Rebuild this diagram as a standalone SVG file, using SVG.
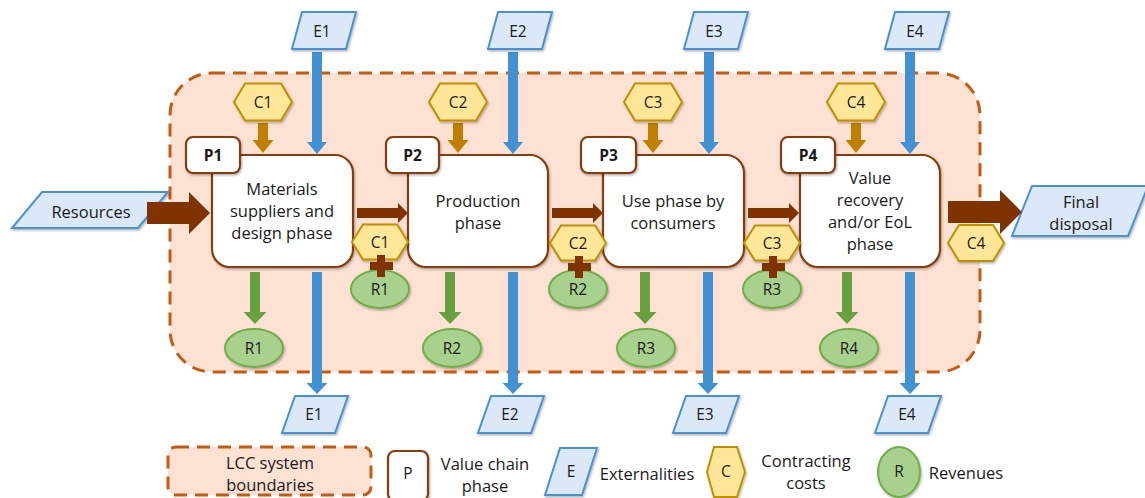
<svg xmlns="http://www.w3.org/2000/svg" width="1145" height="498" viewBox="0 0 1145 498">
<defs>
<filter id="sh" x="-20%" y="-20%" width="150%" height="150%">
<feDropShadow dx="1" dy="1.5" stdDeviation="1" flood-color="#000" flood-opacity="0.3"/>
</filter>
</defs>
<style>
text{font-family:"Open Sans","Liberation Sans",sans-serif;fill:#1a1a1a;text-anchor:middle;font-size:16.5px}
.sm{font-size:15.5px}
.b{font-weight:bold;font-size:15.5px}
.bnd{fill:#fde1d3;stroke:#c55a11;stroke-width:3;stroke-dasharray:13 8}
.box{fill:#fff;stroke:#843c0c;stroke-width:2.2;filter:url(#sh)}
.hex{fill:#ffe699;stroke:#bf9000;stroke-width:2;filter:url(#sh)}
.ext{fill:#dae8f7;stroke:#4a90d9;stroke-width:2;filter:url(#sh)}
.rev{fill:#a9d18e;stroke:#70ad47;stroke-width:2;filter:url(#sh)}
.ca{fill:#bf8000}
.ea{fill:#4191d3}
.ga{fill:#67a03e}
.ba{fill:#7f3300}
</style>

<rect id="boundary" class="bnd" x="170" y="73" width="810" height="299" rx="42"/>

<g id="resources">
<polygon class="ext" points="42,192 168,192 138,228 12,228"/>
<text x="91" y="218">Resources</text>
</g>
<g id="final-disposal">
<polygon class="ext" points="1032,186 1148,186 1128,236 1012,236"/>
<text x="1081" y="208">Final</text>
<text x="1081" y="230">disposal</text>
</g>

<g id="connectors">
<polygon class="ba" points="147,202 189,202 189,192 210,213 189,234 189,224 147,224"/>
<polygon class="ba" points="948,201 1000,201 1000,190 1022,212 1000,234 1000,223 948,223"/>
<polygon class="ba" points="357,208 398,208 398,203 408,213 398,223 398,218 357,218"/>
<polygon class="ba" points="552,208 593,208 593,203 603,213 593,223 593,218 552,218"/>
<polygon class="ba" points="748,208 789,208 789,203 799,213 789,223 789,218 748,218"/>
<polygon class="ca" points="258,123 268,123 268,140 273.5,140 263,153 252.5,140 258,140"/>
<polygon class="ca" points="453,123 463,123 463,140 468.5,140 458,153 447.5,140 453,140"/>
<polygon class="ca" points="648,123 658,123 658,140 663.5,140 653,153 642.5,140 648,140"/>
<polygon class="ca" points="851,123 861,123 861,140 866.5,140 856,153 845.5,140 851,140"/>
<polygon class="ea" points="312,52 322,52 322,142 327,142 317,154 307,142 312,142"/>
<polygon class="ea" points="508,52 518,52 518,142 523,142 513,154 503,142 508,142"/>
<polygon class="ea" points="704,52 714,52 714,142 719,142 709,154 699,142 704,142"/>
<polygon class="ea" points="905,52 915,52 915,142 920,142 910,154 900,142 905,142"/>
<polygon class="ea" points="312,272 322,272 322,383 327.5,383 317,394 306.5,383 312,383"/>
<polygon class="ea" points="508,272 518,272 518,383 523.5,383 513,394 502.5,383 508,383"/>
<polygon class="ea" points="703,272 713,272 713,383 718.5,383 708,394 697.5,383 703,383"/>
<polygon class="ea" points="905,272 915,272 915,383 920.5,383 910,394 899.5,383 905,383"/>
<polygon class="ga" points="250,272 260,272 260,312 266.5,312 255,324 243.5,312 250,312"/>
<polygon class="ga" points="445,272 455,272 455,312 461.5,312 450,324 438.5,312 445,312"/>
<polygon class="ga" points="640,272 650,272 650,312 656.5,312 645,324 633.5,312 640,312"/>
<polygon class="ga" points="842,272 852,272 852,312 858.5,312 847,324 835.5,312 842,312"/>
</g>

<g id="P1">
<rect class="box" x="212" y="155" width="141" height="112" rx="18"/>
<rect class="box" x="186" y="137" width="54" height="36" rx="7"/>
<text class="b" x="213" y="161">P1</text>
<text x="282" y="195">Materials</text>
<text x="282" y="217">suppliers and</text>
<text x="282" y="239">design phase</text>
</g>
<g id="P2">
<rect class="box" x="408" y="155" width="140" height="112" rx="18"/>
<rect class="box" x="386" y="137" width="53" height="36" rx="7"/>
<text class="b" x="412.5" y="161">P2</text>
<text x="478" y="207">Production</text>
<text x="478" y="229">phase</text>
</g>
<g id="P3">
<rect class="box" x="603" y="155" width="141" height="112" rx="18"/>
<rect class="box" x="581" y="137" width="55" height="36" rx="7"/>
<text class="b" x="608.5" y="161">P3</text>
<text x="673" y="207">Use phase by</text>
<text x="673" y="229">consumers</text>
</g>
<g id="P4">
<rect class="box" x="800" y="155" width="140" height="112" rx="18"/>
<rect class="box" x="781" y="137" width="54" height="36" rx="7"/>
<text class="b" x="808" y="161">P4</text>
<text x="870" y="184">Value</text>
<text x="870" y="206">recovery</text>
<text x="870" y="228">and/or EoL</text>
<text x="870" y="250">phase</text>
</g>

<g id="C1-top"><polygon class="hex" points="234,102 245,83.5 281,83.5 292,102 281,120.5 245,120.5"/><text class="sm" x="263" y="107.5">C1</text></g>
<g id="C2-top"><polygon class="hex" points="429,102 440,83.5 476,83.5 487,102 476,120.5 440,120.5"/><text class="sm" x="458" y="107.5">C2</text></g>
<g id="C3-top"><polygon class="hex" points="624,102 635,83.5 671,83.5 682,102 671,120.5 635,120.5"/><text class="sm" x="653" y="107.5">C3</text></g>
<g id="C4-top"><polygon class="hex" points="827,102 838,83.5 874,83.5 885,102 874,120.5 838,120.5"/><text class="sm" x="856" y="107.5">C4</text></g>

<g id="E1-top"><polygon class="ext" points="302,12 356,12 346,49 292,49"/><text class="sm" x="322" y="37">E1</text></g>
<g id="E2-top"><polygon class="ext" points="498,12 552,12 542,49 488,49"/><text class="sm" x="518" y="37">E2</text></g>
<g id="E3-top"><polygon class="ext" points="694,12 748,12 738,49 684,49"/><text class="sm" x="714" y="37">E3</text></g>
<g id="E4-top"><polygon class="ext" points="895,12 949,12 939,49 885,49"/><text class="sm" x="915" y="37">E4</text></g>

<g id="E1-bottom"><polygon class="ext" points="295,396 348,396 335,433 282,433"/><text class="sm" x="314" y="420">E1</text></g>
<g id="E2-bottom"><polygon class="ext" points="491,396 544,396 531,433 478,433"/><text class="sm" x="510" y="420">E2</text></g>
<g id="E3-bottom"><polygon class="ext" points="686,396 739,396 726,433 673,433"/><text class="sm" x="705" y="420">E3</text></g>
<g id="E4-bottom"><polygon class="ext" points="888,396 941,396 928,433 875,433"/><text class="sm" x="907" y="420">E4</text></g>

<g id="R1-bottom"><ellipse class="rev" cx="254" cy="348" rx="29" ry="19"/><text class="sm" x="254" y="353.5">R1</text></g>
<g id="R2-bottom"><ellipse class="rev" cx="452" cy="348" rx="29" ry="19"/><text class="sm" x="452" y="353.5">R2</text></g>
<g id="R3-bottom"><ellipse class="rev" cx="646" cy="348" rx="29" ry="19"/><text class="sm" x="646" y="353.5">R3</text></g>
<g id="R4-bottom"><ellipse class="rev" cx="849" cy="348" rx="29" ry="19"/><text class="sm" x="849" y="353.5">R4</text></g>

<g id="C1-R1-mid">
<ellipse class="rev" cx="380" cy="289" rx="29" ry="19"/><text class="sm" x="380" y="295">R1</text>
<polygon class="hex" points="352,242 363,224.5 397,224.5 408,242 397,259.5 363,259.5"/><text class="sm" x="380" y="247.5">C1</text>
<rect class="ba" x="377" y="255" width="8" height="22"/><rect class="ba" x="370" y="262" width="23" height="8"/>
</g>
<g id="C2-R2-mid">
<ellipse class="rev" cx="578" cy="289" rx="29" ry="19"/><text class="sm" x="578" y="295">R2</text>
<polygon class="hex" points="550,243 561,225.5 595,225.5 606,243 595,260.5 561,260.5"/><text class="sm" x="578" y="248.5">C2</text>
<rect class="ba" x="575" y="256" width="8" height="22"/><rect class="ba" x="568" y="263" width="23" height="8"/>
</g>
<g id="C3-R3-mid">
<ellipse class="rev" cx="772" cy="289" rx="29" ry="19"/><text class="sm" x="772" y="295">R3</text>
<polygon class="hex" points="744,243 755,225.5 789,225.5 800,243 789,260.5 755,260.5"/><text class="sm" x="772" y="248.5">C3</text>
<rect class="ba" x="769" y="256" width="8" height="22"/><rect class="ba" x="762" y="263" width="23" height="8"/>
</g>
<g id="C4-out">
<polygon class="hex" points="948,243 959,225 993,225 1004,243 993,261 959,261"/><text class="sm" x="976" y="248.5">C4</text>
</g>

<g id="legend-boundary">
<rect class="bnd" x="168" y="447" width="203" height="48" rx="8"/>
<text x="270" y="469">LCC system</text>
<text x="270" y="491">boundaries</text>
</g>
<g id="legend-phase">
<rect class="box" x="388" y="451" width="40" height="50" rx="7"/>
<text class="sm" x="408" y="479">P</text>
<text x="485" y="470">Value chain</text>
<text x="485" y="492">phase</text>
</g>
<g id="legend-ext">
<polygon class="ext" points="560,448 597,448 582,495 545,495"/>
<text class="sm" x="571" y="477">E</text>
<text x="647" y="480">Externalities</text>
</g>
<g id="legend-cost">
<polygon class="hex" points="707,472 714,447 737,447 745,472 737,497 714,497"/>
<text class="sm" x="726" y="477">C</text>
<text x="806" y="467">Contracting</text>
<text x="806" y="489">costs</text>
</g>
<g id="legend-rev">
<ellipse class="rev" cx="899" cy="472" rx="21" ry="25"/>
<text class="sm" x="899" y="477">R</text>
<text x="966" y="479">Revenues</text>
</g>
</svg>
